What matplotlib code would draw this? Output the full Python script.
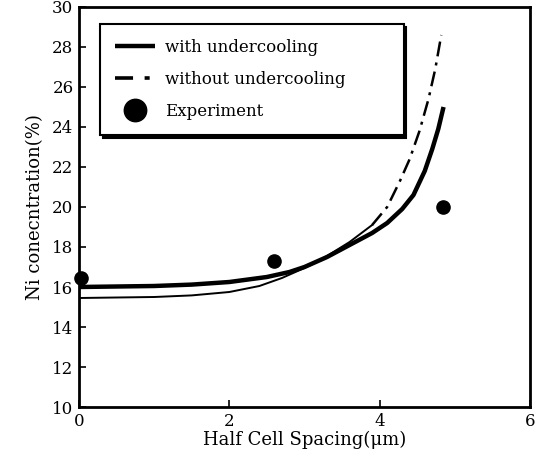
import matplotlib.pyplot as plt
import numpy as np

# values
x_with = [0, 1.0, 1.5, 2.0, 2.5, 2.8, 3.0, 3.3, 3.6, 3.9, 4.1, 4.3, 4.45, 4.6, 4.7, 4.78, 4.85]
y_with = [16.0, 16.05, 16.12, 16.25, 16.5, 16.75, 17.0, 17.5, 18.1, 18.7, 19.2,
          19.9, 20.6, 21.8, 22.9, 23.9, 25.0]

x_without = [0, 1.0, 1.5, 2.0, 2.4, 2.7, 3.0, 3.3, 3.6, 3.9, 4.1, 4.27, 4.4, 4.53,
             4.65, 4.74, 4.82]
y_without = [15.45, 15.5, 15.58, 15.75, 16.05, 16.45, 16.95, 17.55, 18.25, 19.1,
             20.0, 21.3, 22.4, 23.8, 25.4, 26.9, 28.6]

x_exp = [0.03, 2.59, 4.84]
y_exp = [16.45, 17.3, 20.0]

x_ticks = [0, 2, 4, 6]
y_ticks = list(range(10, 31, 2))

plt.rcParams['font.family'] = ['DejaVu Serif']

fig = plt.figure(figsize=(5.43, 4.66), dpi=100)
ax = fig.add_axes([0.1455, 0.1266, 0.8305, 0.8584])

ax.plot(x_with, y_with, color='black', lw=3.2, solid_capstyle='butt',
        solid_joinstyle='round', label='with undercooling')

# the curve without undercooling is printed thin solid low down, dash-dot above
xw = np.array(x_without)
yw = np.array(y_without)
low = xw <= 3.9
high = xw >= 3.9
ax.plot(xw[low], yw[low], color='black', lw=1.4)
ax.plot(xw[high], yw[high], color='black', lw=1.8,
        linestyle=(0, (6, 2.5, 1.2, 2.5)))
ax.plot([], [], color='black', lw=2.6, linestyle=(0, (5, 3.2, 1.4, 3.2)),
        label='without undercooling')

ax.plot(x_exp, y_exp, 'o', color='black', ms=9.5, clip_on=False,
        label='Experiment', zorder=5)

ax.set_xlim(0, 6)
ax.set_ylim(10, 30)
ax.set_xticks(x_ticks)
ax.set_yticks(y_ticks)
ax.tick_params(direction='in', length=5, width=1.2, labelsize=12,
               top=False, right=False, pad=4)
for s in ax.spines.values():
    s.set_linewidth(2)

ax.set_xlabel('Half Cell Spacing(μm)', fontsize=13, labelpad=1)
ax.set_ylabel('Ni conecntration(%)', fontsize=13, labelpad=6)

leg = ax.legend(loc='upper left', bbox_to_anchor=(0.047, 0.6775, 0.673, 0.28),
                mode='expand', fontsize=12, frameon=True, fancybox=False,
                edgecolor='black', framealpha=1, handlelength=2.4,
                handletextpad=0.6, borderpad=0.9, labelspacing=0.9,
                markerscale=1.7, borderaxespad=0,
                shadow={'color': 'black', 'alpha': 1})
leg.get_frame().set_linewidth(1.5)

fig.savefig('out.png', dpi=100)
